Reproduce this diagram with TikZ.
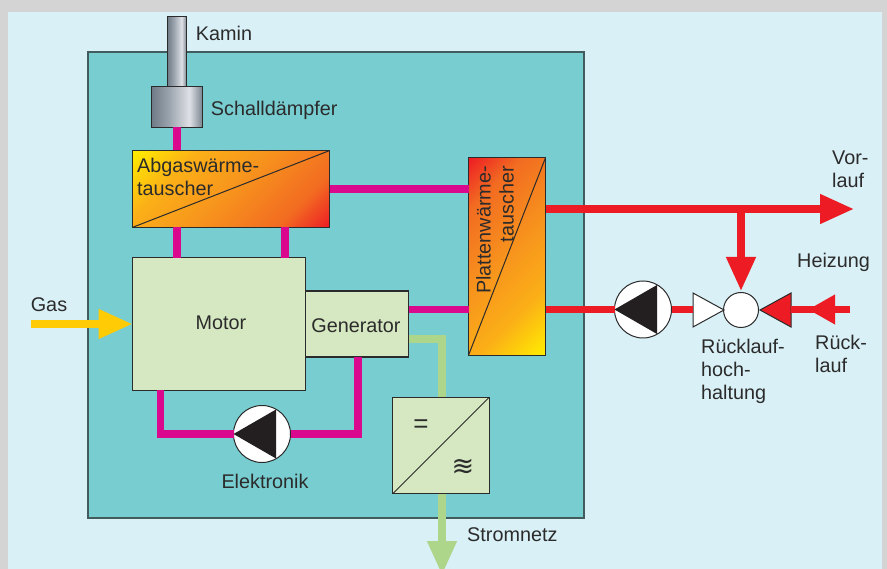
\documentclass[tikz,border=0pt]{standalone}
\usepackage{fontspec}
\setmainfont{Liberation Sans}
\newfontfamily\symfont{DejaVu Sans}
\usepackage{xcolor}
\usetikzlibrary{calc,positioning,arrows.meta,shapes.geometric}
\definecolor{rahmen}{HTML}{D4D4D4}
\definecolor{hell}{HTML}{D9F0F6}
\definecolor{tuerkis}{HTML}{78CDD1}
\definecolor{blass}{HTML}{D5E8C1}
\definecolor{magenta}{HTML}{D9088C}
\definecolor{rot}{HTML}{ED1C24}
\definecolor{gruen}{HTML}{AED68A}
\definecolor{gelb}{HTML}{FFCB05}
\definecolor{linie}{HTML}{2B2B2B}
\definecolor{pumpsw}{HTML}{231F20}
\definecolor{metalla}{HTML}{6E7A86}
\definecolor{metallb}{HTML}{9AA3AD}
\definecolor{metallc}{HTML}{DFE1E6}
\definecolor{metalld}{HTML}{75818C}
\definecolor{wta}{HTML}{FFEE00}
\definecolor{wtb}{HTML}{FBAF17}
\definecolor{wtc}{HTML}{F7941D}
\definecolor{wtd}{HTML}{F26B21}
\definecolor{wte}{HTML}{ED1C24}
\pgfdeclarehorizontalshading{metall}{100bp}{
  color(0bp)=(metalla); color(25bp)=(metalla); color(42bp)=(metallb);
  color(62bp)=(metallc); color(75bp)=(metalld); color(100bp)=(metalld)}
\pgfdeclarehorizontalshading{gelbrot}{100bp}{
  color(0bp)=(wta); color(14.6bp)=(wta); color(32bp)=(wtb); color(50bp)=(wtc);
  color(72bp)=(wtd); color(85.4bp)=(wte); color(100bp)=(wte)}
\pgfdeclarehorizontalshading{rotgelb}{100bp}{
  color(0bp)=(wte); color(14.6bp)=(wte); color(28bp)=(wtd); color(50bp)=(wtc);
  color(68bp)=(wtb); color(85.4bp)=(wta); color(100bp)=(wta)}
\begin{document}
\begin{tikzpicture}[
    x=1pt, y=-1pt,
    font=\fontsize{19.8}{23}\selectfont,
    blk/.style={draw=linie, rectangle, line width=1.2pt, fill=blass, inner sep=0pt, outer sep=0pt, align=center},
    wt/.style={draw=linie, rectangle, line width=1.2pt, inner sep=0pt, outer sep=0pt, shading angle=-45},
    rohr/.style={draw=linie, rectangle, line width=1pt, inner sep=0pt, outer sep=0pt, shading=metall},
    lbl/.style={text=linie, inner sep=0pt, align=left},
    pumpe/.style={draw=linie, circle, line width=1pt, fill=white, minimum size=57pt, inner sep=0pt, outer sep=0pt},
    ventil/.style={draw=linie, isosceles triangle, isosceles triangle stretches, line width=1pt,
                   minimum width=34pt, minimum height=31pt, inner sep=0pt, outer sep=0pt},
    abgas/.style={draw=magenta, line width=7.5pt},
    heiz/.style={draw=rot, line width=7.5pt},
    strom/.style={draw=gruen, line width=7.5pt},
    kopf/.style={-{Triangle[length=34pt, width=28pt]}}
  ]
    \useasboundingbox (0,0) rectangle (887,569);
    \fill[rahmen] (0,0) rectangle (887,569);
    \fill[hell] (8,12) rectangle (882,569);
    \draw[draw=linie!70!tuerkis, line width=1.6pt, fill=tuerkis] (88,52) rectangle (584,518);

    \node[rohr, minimum width=19.5pt, minimum height=70pt] (kamin) at (177,52) {};
    \node[rohr, minimum width=51.5pt, minimum height=40.5pt] (daempfer) at (177,107) {};
    \node[wt, minimum width=197.5pt, minimum height=77pt, shading=gelbrot] (agwt) at (231,189) {};
    \node[wt, minimum width=77pt, minimum height=197.5pt, shading=rotgelb] (pwt) at (507,256.5) {};
    \node[blk, minimum width=173pt, minimum height=132.5pt] (motor) at (219,324) {};
    \node[blk, minimum width=103.5pt, minimum height=66pt] (generator) at (357,324) {};
    \node[blk, minimum width=96.5pt, minimum height=96.5pt] (wandler) at (441,445.5) {};
    \node[pumpe] (pumpel) at (262,434) {};
    \node[pumpe] (pumper) at (643,309.5) {};
    \node[draw=linie, circle, line width=1pt, fill=white, minimum size=35pt, inner sep=0pt]
      (misch) at (741,310) {};
    \node[ventil, fill=white, anchor=apex] (ventill) at (724,310) {};
    \node[ventil, fill=rot, shape border rotate=180, anchor=apex] (ventilr) at (760,310) {};

    \coordinate (gasein) at (31,324);
    \coordinate (vorlauf) at (854,209);
    \coordinate (abzweig) at (741,209);
    \coordinate (ruecklauf) at (850,309.5);
    \coordinate (spitze) at (808,309.5);
    \coordinate (netz) at (442,575);

    \draw[abgas] (daempfer.south) -- (daempfer.south |- agwt.north);
    \draw[abgas] (agwt.south -| daempfer) -- (motor.north -| daempfer);
    \draw[abgas] ($(agwt.south)+(54,0)$) -- ($(motor.north)+(66,0)$);
    \draw[abgas] (agwt.east) -- (agwt.east -| pwt.west);
    \draw[abgas] (generator.east |- pumper) -- (pwt.west |- pumper);
    \draw[abgas] ($(motor.south west)+(28,0)$) |- (pumpel.west);
    \draw[abgas] ($(generator.south)+(1,0)$) |- (pumpel.east);
    \draw[strom] ($(generator.east)+(0,15)$) -| (wandler.north -| netz);
    \draw[strom, kopf] (wandler.south -| netz) -- (netz);
    \draw[draw=gelb, line width=7.5pt, kopf] (gasein) -- (motor.west |- gasein);
    \draw[heiz, kopf] (pwt.east |- vorlauf) -- (vorlauf);
    \draw[heiz, kopf] (abzweig) -- ($(misch.north)+(0,-1)$);
    \draw[heiz] (pwt.east |- pumper) -- (pumper.west);
    \draw[heiz] (pumper.east) -- (ventill.west |- pumper);
    \draw[heiz] (ruecklauf) -- (ventilr.east |- ruecklauf);
    \draw[heiz, -{Triangle[length=27pt, width=28pt]}] (ruecklauf) -- (spitze);

    \draw[linie, line width=1pt] (agwt.south west) -- (agwt.north east);
    \draw[linie, line width=1pt] (pwt.south west) -- (pwt.north east);
    \draw[linie, line width=1pt] (wandler.south west) -- (wandler.north east);
    \foreach \p in {pumpel,pumper}
      \fill[pumpsw] (\p.west) -- ($(\p)+(14,-24.5)$) -- ($(\p)+(14,24.5)$) -- cycle;

    \node[lbl, right=9pt of kamin, yshift=19pt] (tkamin) {Kamin};
    \node[lbl, right=8pt of daempfer, yshift=-3pt] (tdaempfer) {Schalldämpfer};
    \node[lbl, anchor=north west] (tagwt) at (137,158) {Abgaswärme-\\tauscher};
    \node[lbl, rotate=90, anchor=east, align=right] (tpwt) at (495,166) {Plattenwärme-\\tauscher};
    \node[lbl] (tmotor) at (221,323) {Motor};
    \node[lbl] (tgenerator) at (356,326) {Generator};
    \node[lbl, below=11pt of pumpel, xshift=3pt] (telektronik) {Elektronik};
    \node[lbl] (tgas) at (49,305) {Gas};
    \node[lbl, anchor=north west] (tnetz) at (467,527) {Stromnetz};
    \node[lbl, anchor=north west] (tvor) at (832,151) {Vor-\\lauf};
    \node[lbl, anchor=west] (theiz) at (797,262) {Heizung};
    \node[lbl, anchor=north west] (thoch) at (701,339) {Rücklauf-\\hoch-\\haltung};
    \node[lbl, anchor=north west] (trueck) at (815,335) {Rück-\\lauf};
    \node[lbl, font=\fontsize{26}{26}\selectfont] (tgleich) at (421,426) {=};
    \node[lbl, font=\symfont\fontsize{27}{27}\selectfont] (twechsel) at (463,467) {≋};
  \end{tikzpicture}
\end{document}
